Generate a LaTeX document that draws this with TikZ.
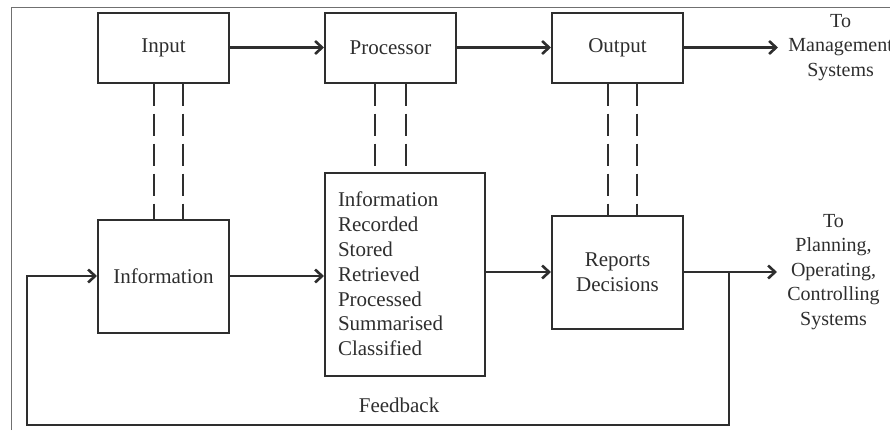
\documentclass[tikz,border=0pt]{standalone}
\usepackage{fontspec}
\setmainfont{Liberation Serif}
\usepackage{xcolor}
\usepackage{tikz}
\usetikzlibrary{arrows.meta,positioning,calc}
\definecolor{ink}{HTML}{2E2E2E}
\definecolor{framecolor}{HTML}{707070}
\tikzset{
  stagebox/.style={
    draw=ink,
    line width=1pt,
    align=center,
    minimum width=65.5pt,
    minimum height=35pt,
    inner sep=3pt
  },
  tallbox/.style={
    stagebox,
    minimum height=56.5pt
  },
  listbox/.style={
    draw=ink,
    line width=1pt,
    align=left,
    text width=67pt,
    minimum height=101.5pt,
    inner xsep=6.5pt,
    inner ysep=3pt
  },
  plainlabel/.style={
    align=center,
    text=ink
  },
  sidelabel/.style={
    plainlabel,
    font=\fontsize{10pt}{12.2pt}\selectfont,
    inner xsep=5pt
  },
  flowarrow/.style={-{Straight Barb[length=3.5pt,width=6.5pt]},line width=1.3pt,draw=ink},
  linkline/.style={line width=1pt,draw=ink,dash pattern=on 11pt off 4pt},
  frameline/.style={line width=0.5pt,draw=framecolor}
}

\begin{document}
\begin{tikzpicture}[font=\fontsize{10.5pt}{12.4pt}\selectfont, text=ink]
  \useasboundingbox (0,0) rectangle (445pt,-215pt);
  \draw[frameline] (5.5pt,-215pt) |- (445pt,-3.5pt);

  % top row
  \node[stagebox] (input) at (81.75pt,-23.75pt) {Input};
  \node[stagebox, right=47pt of input] (processor) {Processor};
  \node[stagebox, right=47pt of processor] (output) {Output};
  \node[sidelabel, right=47pt of output] (mgmt) {To\\Management\\Systems};

  % lower row
  \node[tallbox, below=67.5pt of input] (info) {Information};
  \node[listbox, below right=44pt and 0pt of processor.south west] (records)
    {Information\\Recorded\\Stored\\Retrieved\\Processed\\Summarised\\Classified};
  \node[tallbox, below=65.5pt of output] (reports) {Reports\\Decisions};
  \node[sidelabel, right=46.5pt of reports] (planning) {To\\Planning,\\Operating,\\Controlling\\Systems};

  \draw[flowarrow] (input) -- (processor);
  \draw[flowarrow] (processor) -- (output);
  \draw[flowarrow] (output) -- (mgmt);
  \draw[flowarrow] (info) -- (info -| records.west);
  \draw[flowarrow] (records.east |- reports) -- (reports);
  \draw[flowarrow] (reports) -- (planning);

  % double links
  \foreach \dx in {-5pt,9.5pt}{
    \draw[linkline] ([xshift=\dx]input.south) -- ([xshift=\dx]input.south |- info.north);
    \draw[linkline] ([xshift=\dx]output.south) -- ([xshift=\dx]output.south |- reports.north);
  }
  \foreach \dx in {-7.75pt,7.75pt}
    \draw[linkline] ([xshift=\dx]processor.south) -- ([xshift=\dx]processor.south |- records.north);

  % feedback loop
  \coordinate[right=22.5pt of reports.east] (fbtop);
  \coordinate[left=35pt of info.west] (fbleft);
  \coordinate[below=74.5pt of fbleft] (fbbase);
  \draw[flowarrow] (fbtop) |- node[plainlabel, above=2pt, pos=0.735] (fb) {Feedback} (fbbase) -- (fbleft) -- (info);
\end{tikzpicture}
\end{document}
